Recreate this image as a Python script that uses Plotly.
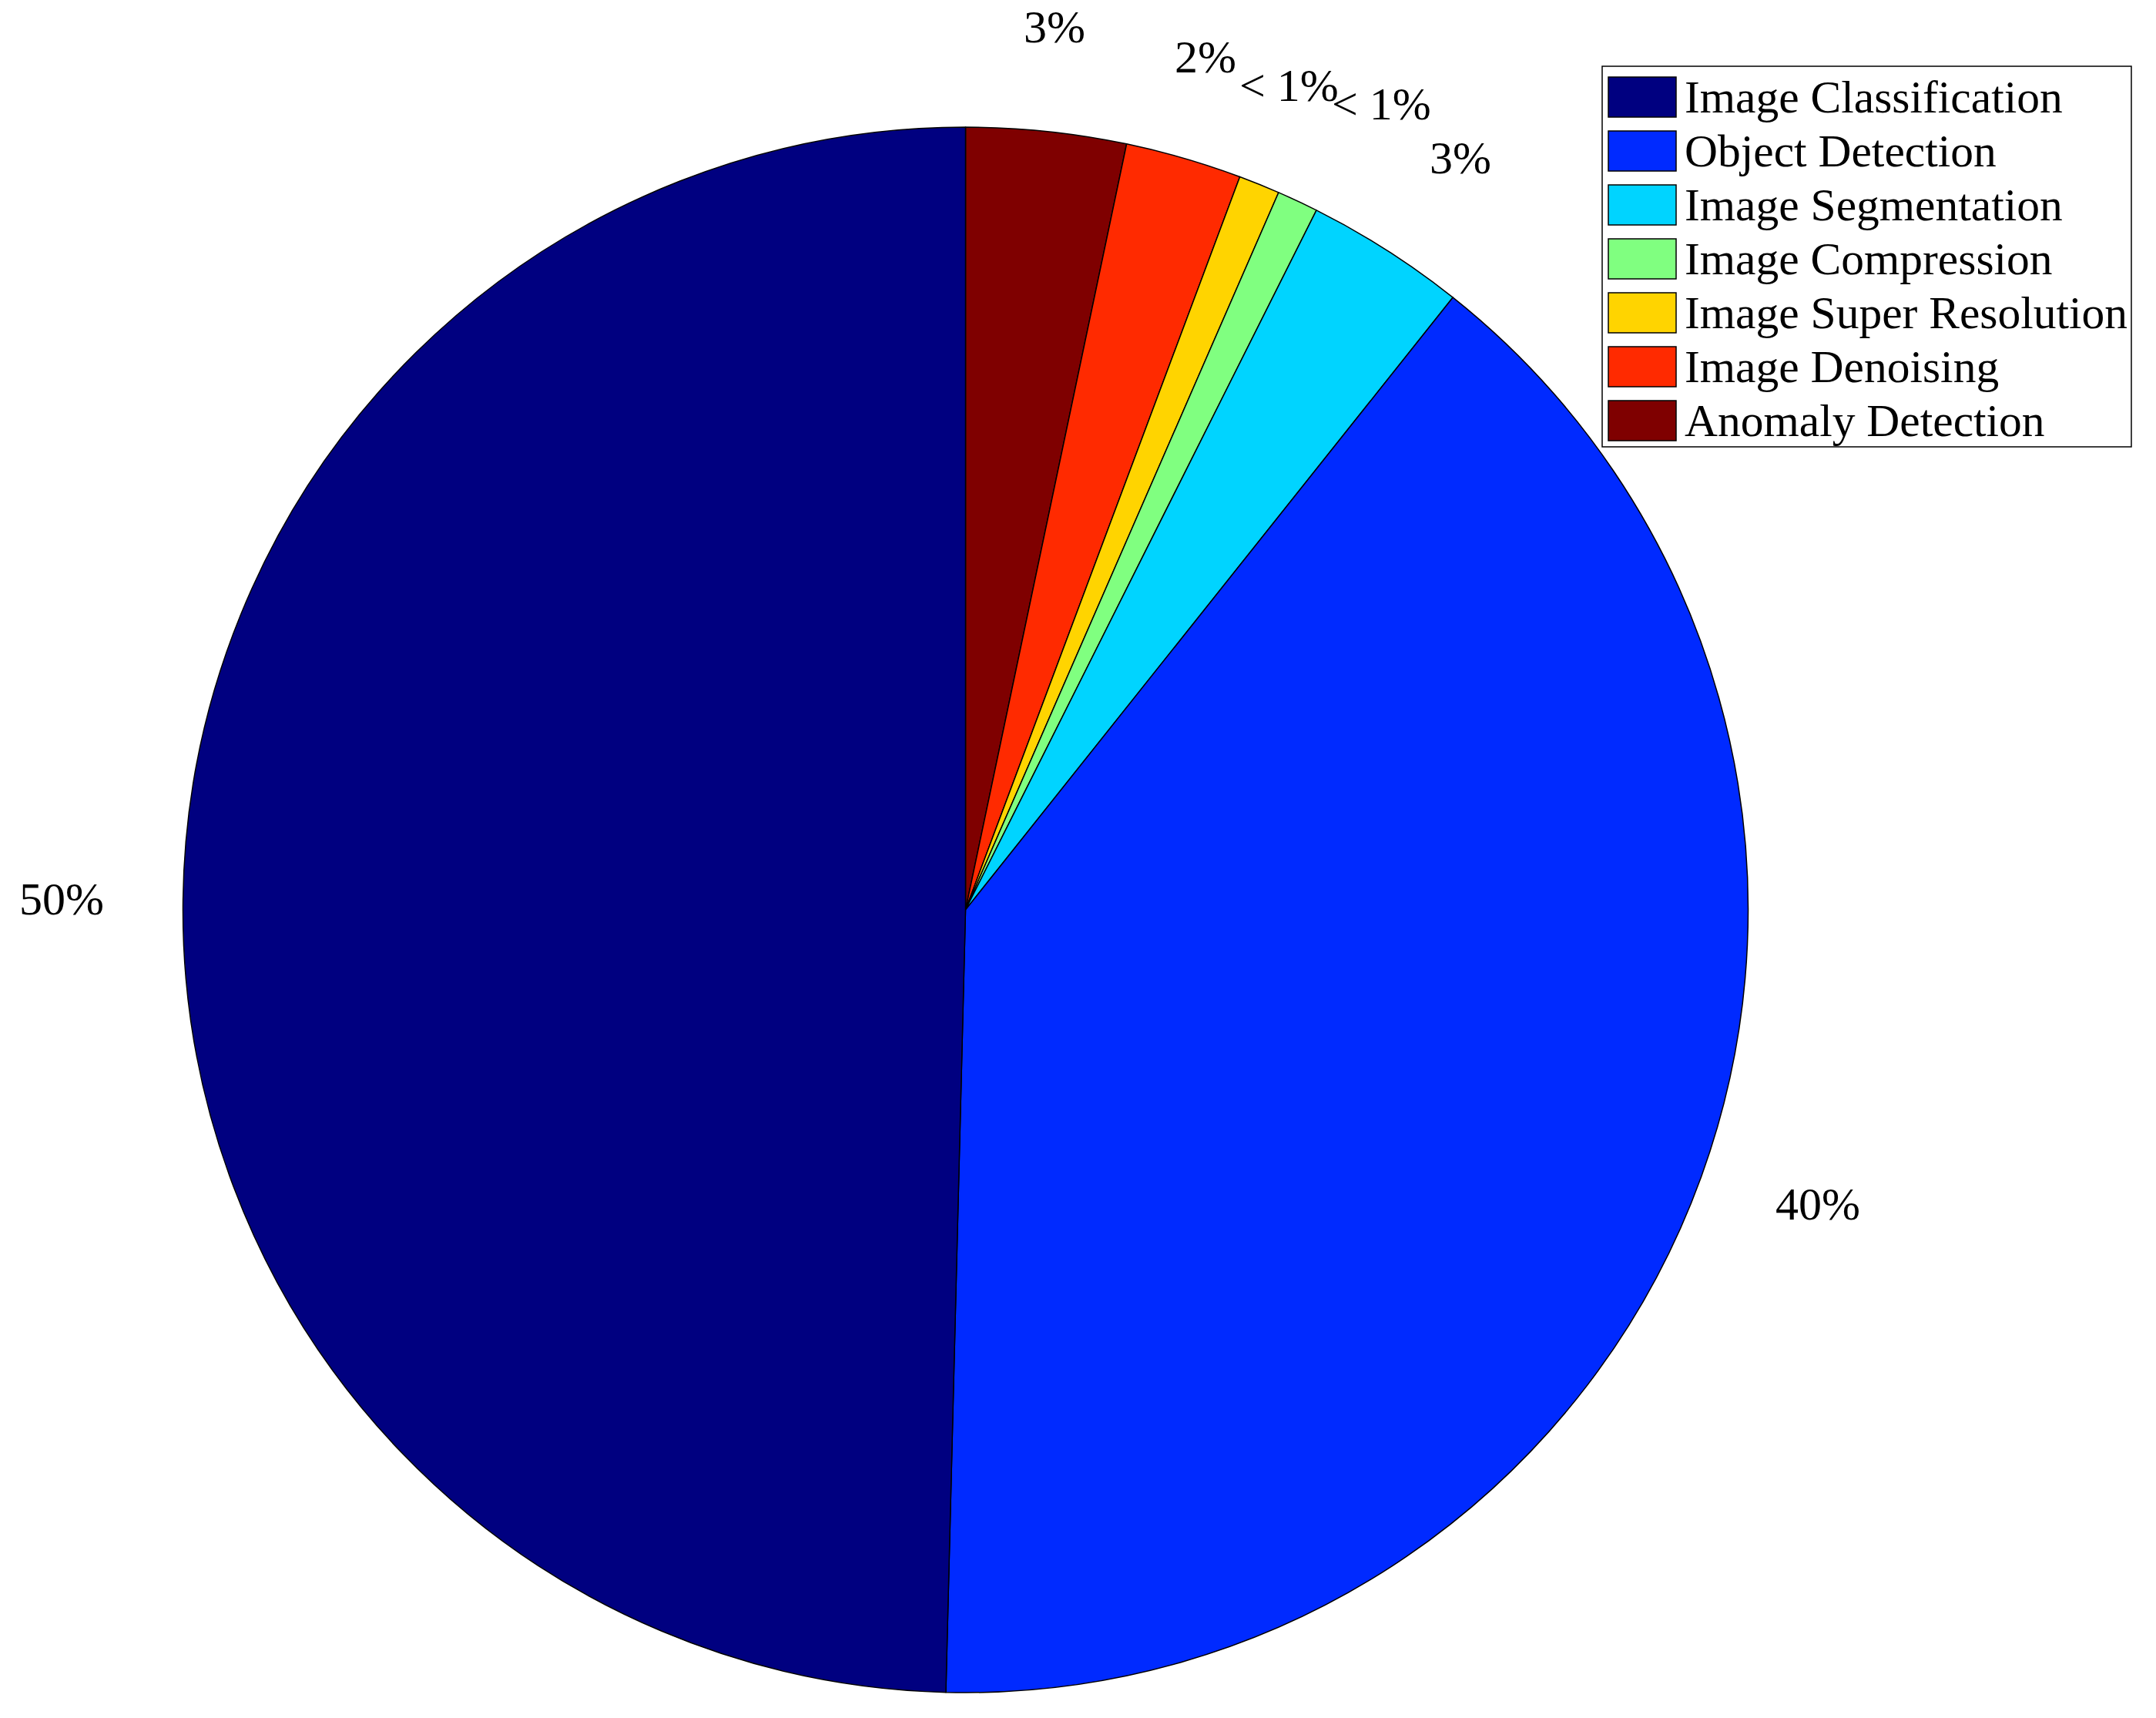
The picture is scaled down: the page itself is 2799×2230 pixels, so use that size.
import math
import plotly.graph_objects as go

# share of papers per task (percent)
tasks = ["Image Classification", "Object Detection", "Image Segmentation",
         "Image Compression", "Image Super Resolution", "Image Denoising",
         "Anomaly Detection"]
share = [49.6, 39.7, 3.3, 0.85, 0.85, 2.4, 3.3]
colors = ["#000080", "#002AFF", "#00D4FF", "#80FF80", "#FFD400", "#FF2A00", "#7F0000"]

# MATLAB style labels
pct_text = ["< 1%" if v < 1 else "{}%".format(round(v)) for v in share]

W, H = 2799, 2230
FONT = "Liberation Serif, Times New Roman, serif"
OFF = 8  # page body margin in the browser

# pie placement in pixels (page coords, minus body margin)
cx, cy, R = 1253.5 - OFF, 1181 - OFF, 1016

# MATLAB draws counterclockwise from 12 o'clock -> same as clockwise on the reversed list
labels_r = tasks[::-1]
vals_r = share[::-1]
cols_r = colors[::-1]
text_r = pct_text[::-1]

fig = go.Figure()
fig.add_trace(go.Pie(
    labels=labels_r, values=vals_r,
    textinfo="none",
    marker=dict(colors=cols_r, line=dict(color="black", width=1.5)),
    sort=False, direction="clockwise", rotation=0,
    domain=dict(x=[(cx - R) / W, (cx + R) / W], y=[1 - (cy + R) / H, 1 - (cy - R) / H]),
    showlegend=False, hoverinfo="label+percent",
))

# percentage labels at 1.1 R, aligned like MATLAB's pie()
total = sum(vals_r)
cum = 0
for v, t in zip(vals_r, text_r):
    a = 2 * math.pi * (cum + v / 2) / total
    cum += v
    s, c = math.sin(a), math.cos(a)
    x = cx + 1.1 * R * s
    y = cy - 1.1 * R * c
    xa = "center" if abs(s) < 0.4 else ("left" if s > 0 else "right")
    ya = "middle" if abs(c) < 0.4 else ("bottom" if c > 0 else "top")
    fig.add_annotation(x=x / W, y=1 - y / H, xref="paper", yref="paper",
                       xanchor=xa, yanchor=ya, text=t, showarrow=False,
                       borderpad=0, font=dict(family=FONT, size=60, color="black"))

# legend box drawn by hand (MATLAB-like wide swatches)
bx0, bx1, by0, by1 = 2080 - OFF, 2767 - OFF, 86 - OFF, 580 - OFF
fig.add_shape(type="rect", xref="paper", yref="paper",
              x0=bx0 / W, x1=bx1 / W, y0=1 - by1 / H, y1=1 - by0 / H,
              line=dict(color="black", width=1.5), fillcolor="white")
row_h = 70
for i, (name, col) in enumerate(zip(tasks, colors)):
    yc = 126 - OFF + i * row_h
    fig.add_shape(type="rect", xref="paper", yref="paper",
                  x0=(2088 - OFF) / W, x1=(2176 - OFF) / W,
                  y0=1 - (yc + 26) / H, y1=1 - (yc - 26) / H,
                  line=dict(color="black", width=1.5), fillcolor=col)
    fig.add_annotation(x=(2185 - OFF) / W, y=1 - yc / H, xref="paper", yref="paper",
                       xanchor="left", yanchor="middle", text=name, showarrow=False,
                       font=dict(family=FONT, size=59.5, color="black"))

fig.update_layout(width=W, height=H, margin=dict(l=0, r=0, t=0, b=0),
                  paper_bgcolor="white", plot_bgcolor="white")
fig.write_html("out.html")
